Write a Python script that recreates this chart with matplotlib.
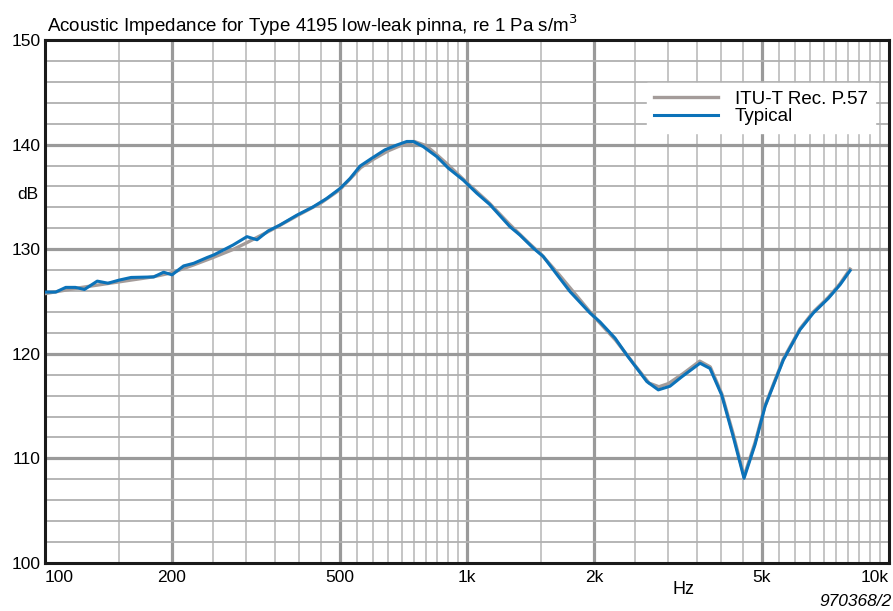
import numpy as np
import matplotlib
matplotlib.use("Agg")
import matplotlib.pyplot as plt

# --- data ---
freq_typ = [100, 106, 112, 118, 124, 133, 141, 150, 160, 181, 191, 200, 213, 225,
            242, 251, 264, 279, 301, 318, 338, 360, 395, 432, 465, 500, 528, 558,
            595, 639, 681, 720, 746, 788, 848, 903, 980, 1055, 1134, 1264, 1335,
            1436, 1516, 1646, 1754, 1956, 2066, 2243, 2390, 2667, 2840, 3027,
            3228, 3566, 3765, 4014, 4276, 4534, 4813, 5084, 5617, 6153, 6617,
            7182, 7655, 8085]
db_typ = [125.9, 125.9, 126.35, 126.35, 126.15, 126.95, 126.75, 127.05, 127.3,
          127.35, 127.8, 127.55, 128.4, 128.65, 129.2, 129.45, 129.9, 130.4,
          131.2, 130.9, 131.75, 132.3, 133.25, 134.05, 134.85, 135.8, 136.75,
          137.95, 138.7, 139.5, 139.95, 140.3, 140.3, 139.8, 138.85, 137.75,
          136.6, 135.35, 134.25, 132.15, 131.35, 130.1, 129.3, 127.4, 125.95,
          123.9, 123.05, 121.5, 119.9, 117.35, 116.55, 116.9, 117.8, 119.1,
          118.6, 116.05, 112.05, 108.1, 111.3, 114.95, 119.4, 122.3, 123.9,
          125.3, 126.6, 127.95]

freq_itu = [100, 120, 140, 160, 180, 200, 225, 250, 280, 300, 350, 400, 450,
            500, 560, 600, 650, 700, 750, 800, 850, 900, 1000, 1130, 1260,
            1400, 1500, 1650, 2000, 2250, 2500, 2700, 2850, 3000, 3250, 3560,
            3770, 4014, 4276, 4534, 4813, 5084, 5617, 6153, 6617, 7182, 7655,
            8085]
db_itu = [125.75, 126.3, 126.7, 127.05, 127.35, 127.75, 128.5, 129.2, 130.0,
          130.6, 132.0, 133.3, 134.4, 135.7, 137.8, 138.6, 139.4, 139.95,
          140.3, 139.9, 139.0, 138.1, 136.35, 134.4, 132.4, 130.6, 129.5,
          127.6, 123.55, 121.3, 118.9, 117.2, 116.85, 117.15, 118.1, 119.3,
          118.75, 116.2, 112.3, 108.3, 111.5, 115.05, 119.5, 122.4, 124.0,
          125.4, 126.7, 128.1]

x_ticks = [100, 200, 500, 1000, 2000, 5000, 10000]
x_labels = ["100", "200", "500", "1k", "2k", "5k", "10k"]
y_ticks = [100, 110, 120, 130, 140, 150]

BLUE = "#0b72b9"
GREY = "#a49c9a"

plt.rcParams['font.family'] = ['Liberation Sans', 'DejaVu Sans']

fig = plt.figure(figsize=(8.93, 6.11), dpi=100)
ax = fig.add_axes([45 / 893, 48 / 611, 844 / 893, 523 / 611])

ax.set_xscale('log')
ax.set_xlim(100, 10000)
ax.set_ylim(100, 150)

# grid: 0.5 x decade steps (minor), 1-2-5 (major); 2 dB / 10 dB
minor_x = [m * d for d in (100, 1000) for m in np.arange(1.5, 10, 0.5)]
for fx in minor_x:
    if fx in x_ticks:
        continue
    ax.axvline(fx, color="#c0c0c0", lw=1.3, zorder=1)
for fx in x_ticks[1:-1]:
    ax.axvline(fx, color="#9a9a9a", lw=2.3, zorder=1)
for yy in range(102, 150, 2):
    if yy % 10 == 0:
        ax.axhline(yy, color="#9a9a9a", lw=2.3, zorder=1)
    else:
        ax.axhline(yy, color="#b0b0b0", lw=1.3, zorder=1)

ax.plot(freq_itu, db_itu, color=GREY, lw=2.4, label="ITU-T Rec. P.57", zorder=3)
ax.plot(freq_typ, db_typ, color=BLUE, lw=2.2, label="Typical", zorder=4)

ax.set_xticks(x_ticks)
ax.set_xticklabels(x_labels)
ax.xaxis.set_minor_locator(matplotlib.ticker.NullLocator())
ax.set_yticks(y_ticks)
ax.tick_params(length=0, labelsize=12.5)
ax.tick_params(axis='x', pad=5)
ax.tick_params(axis='y', pad=3)
xl = ax.get_xticklabels()
xl[0].set_horizontalalignment('left')
xl[-1].set_horizontalalignment('right')

for s in ax.spines.values():
    s.set_linewidth(2.2)
    s.set_color("#1a1a1a")

ax.text(-0.008, 135.2, "dB", transform=ax.get_yaxis_transform(),
        ha='right', va='center', fontsize=12.5)
ax.text(3250, 98.3, "Hz", ha='center', va='top', fontsize=13, clip_on=False)

fig.text(47 / 893, 1 - 25 / 611,
         "Acoustic Impedance for Type 4195 low-leak pinna, re 1 Pa s/m$^3$",
         ha='left', va='center', fontsize=13.5)
fig.text(0.999, 1 - 601 / 611, "970368/2", ha='right', va='center',
         fontsize=12.5, style='italic')

leg = ax.legend(loc='upper right', bbox_to_anchor=(0.995, 0.935), fontsize=13.5,
                handlelength=3.4, labelspacing=0.02, borderpad=0.4,
                handletextpad=0.9, frameon=True, fancybox=False)
leg.get_frame().set_edgecolor('white')
leg.get_frame().set_facecolor('white')
leg.get_frame().set_alpha(1.0)
leg.set_zorder(5)

fig.savefig("out.png", dpi=100)
